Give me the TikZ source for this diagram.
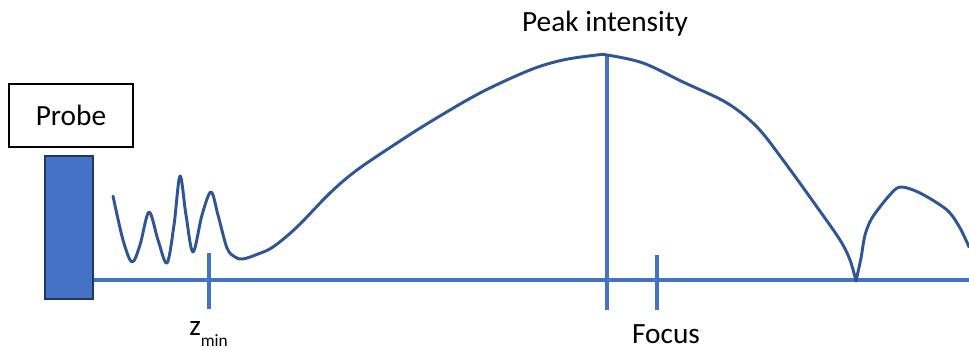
\documentclass[tikz,border=0pt]{standalone}
\usepackage{fontspec}
\setmainfont{Carlito}
\begin{document}
\begin{tikzpicture}[x=0.75pt,y=-0.75pt,
  lbl/.style={font=\fontsize{22}{26}\selectfont, inner sep=0pt},
  axisline/.style={draw=axisblue, line width=3pt},
  tickline/.style={draw=axisblue, line width=2.4pt},
  wave/.style={draw=waveblue, line width=2.2pt, line join=round, line cap=round}]
\definecolor{axisblue}{HTML}{4472C4}
\definecolor{waveblue}{HTML}{2F5597}
\definecolor{probeedge}{HTML}{1F3864}
\useasboundingbox (0,0) rectangle (969,350);
% probe label box
\node[draw=black, line width=1.3pt, minimum width=124*0.75pt, minimum height=63*0.75pt, lbl, inner sep=0pt] (probe) at (71,115.5) {Probe};
% transducer
\node[draw=probeedge, fill=axisblue, line width=1.2pt, minimum width=48*0.75pt, minimum height=143*0.75pt, inner sep=0pt] (xdcr) at (69,227.5) {};
% axis
\coordinate (axend) at (969,280);
\draw[axisline] (xdcr.east |- axend) -- (axend);
% ticks
\coordinate (zt) at (209,253); \coordinate (zb) at (209,309);
\draw[tickline] (zt) -- (zb);
\coordinate (pt) at (607,55); \coordinate (pb) at (607,310);
\draw[tickline] (pt) -- (pb);
\coordinate (ft) at (657,255); \coordinate (fb) at (657,310);
\draw[tickline] (ft) -- (fb);
% labels
\node[lbl, anchor=base] (peak) at (605,31) {Peak intensity};
\node[lbl, anchor=base] (focus) at (666,343) {Focus};
\node[lbl, anchor=base west] (zmin) at (189,335) {z\raisebox{-0.38em}{\fontsize{13}{15}\selectfont min}};
% intensity curve
\draw[wave] plot[smooth, tension=0.55] coordinates {
 (113,196) (123,240) (132,262) (140,245) (149,212) (158,240) (167,263) (174,225) (180,176) (186,215) (193,252) (202,215) (211,192) (218,215) (227,248) (235,257) (243,259) (258,254) (273,247) (297,227) (330,193) (357,170) (397,143) (430,122) (480,93) (530,70) (563,60) (597,55) (607,55) (643,63) (683,82) (727,103) (757,127) (783,160) (817,207) (840,240) (850,260) (856,281)};
\draw[wave] plot[smooth, tension=0.5] coordinates {
 (856,281) (861,258) (865,235) (872,218) (888,197) (900,187) (920,193) (947,210) (960,228) (969,247)};
\end{tikzpicture}
\end{document}
